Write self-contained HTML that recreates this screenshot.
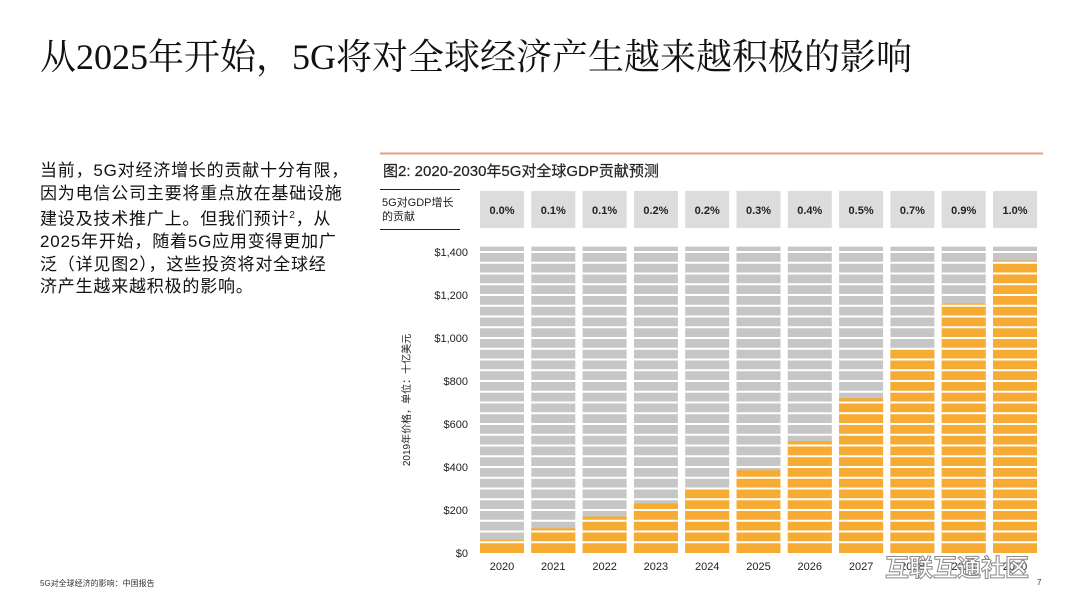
<!DOCTYPE html>
<html><head><meta charset="utf-8"><style>
body{margin:0;width:1080px;height:608px;background:#fff;position:relative;overflow:hidden;font-family:"Liberation Sans","Noto Sans CJK SC",sans-serif;color:#111}
.abs{position:absolute}
</style></head><body>
<div class="abs" style="left:40px;top:29px;font-family:'Liberation Serif','Noto Serif CJK SC',serif;font-size:36px;white-space:nowrap;color:#111">从2025年开始，5G将对全球经济产生越来越积极的影响</div>
<div class="abs" style="left:40px;top:160px;white-space:nowrap;font-size:17px;letter-spacing:0.8px;line-height:22.5px">当前，5G对经济增长的贡献十分有限，<br>因为电信公司主要将重点放在基础设施<br>建设及技术推广上。但我们预计<sup style="font-size:10px">2</sup>，从<br>2025年开始，随着5G应用变得更加广<br>泛（详见图2），这些投资将对全球经<br>济产生越来越积极的影响。</div>
<div class="abs" style="left:40px;top:578px;font-size:8px;color:#333">5G对全球经济的影响：中国报告</div>
<div class="abs" style="left:1037px;top:578px;font-size:8px;color:#333">7</div>
<svg class="abs" style="left:0;top:0" width="1080" height="608">
<line x1="380" y1="153.5" x2="1043" y2="153.5" stroke="#e8a07a" stroke-width="2"/>
<text x="383" y="176" font-size="15" fill="#222" stroke="#222" stroke-width="0.2">图2: 2020-2030年5G对全球GDP贡献预测</text>
<line x1="380" y1="189.5" x2="460" y2="189.5" stroke="#222"/>
<line x1="380" y1="229.5" x2="460" y2="229.5" stroke="#222"/>
<text x="382" y="206" font-size="11" fill="#222">5G对GDP增长</text>
<text x="382" y="220" font-size="11" fill="#222">的贡献</text>
<text transform="translate(410,400) rotate(-90)" text-anchor="middle" font-size="10" fill="#222">2019年价格，单位：十亿美元</text>
<g id="g"></g>
</svg>
<div class="abs" style="left:885px;top:548px;font-size:24px;color:rgba(255,255,255,0.9);-webkit-text-stroke:1px #888;font-weight:bold">互联互通社区</div>
<script>
const years=["2020","2021","2022","2023","2024","2025","2026","2027","2028","2029","2030"];
const values=[60,115,170,230,300,385,520,720,945,1160,1360];
const pct=["0.0%","0.1%","0.1%","0.2%","0.2%","0.3%","0.4%","0.5%","0.7%","0.9%","1.0%"];
const ticks=[0,200,400,600,800,1000,1200,1400];
const NS="http://www.w3.org/2000/svg",g=document.getElementById("g");
const y0=553,yTop=252,maxV=1400,bgMax=1425;
const y=v=>y0-(v/maxV)*(y0-yTop);
const x=i=>480+i*51.3,bw=44;
function el(t,a){const e=document.createElementNS(NS,t);for(const k in a)e.setAttribute(k,a[k]);g.appendChild(e);return e;}
ticks.forEach(t=>{const e=el("text",{x:468,y:y(t)+4,"text-anchor":"end","font-size":11,fill:"#222"});


e.textContent="$"+t.toLocaleString("en-US");});
years.forEach((yr,i)=>{
const bg=el("rect",{x:x(i),y:y(bgMax),width:bw,height:y0-y(bgMax),fill:"#c6c6c6"});


const b=el("rect",{x:x(i),y:y(values[i]),width:bw,height:y0-y(values[i]),fill:"#f6ab32"});


for(let v=50;v<bgMax;v+=50){const l=el("rect",{x:x(i),y:y(v)-1,width:bw,height:2,fill:"#fff"});

}
const lb=el("text",{x:x(i)+bw/2,y:570,"text-anchor":"middle","font-size":11,fill:"#222"});


lb.textContent=yr;
const bx=el("rect",{x:x(i),y:191,width:bw,height:37,fill:"#dcdcdc"});


const pt=el("text",{x:x(i)+bw/2,y:214,"text-anchor":"middle","font-size":11,"font-weight":"bold",fill:"#222"});


pt.textContent=pct[i];
});
</script>
</body></html>
